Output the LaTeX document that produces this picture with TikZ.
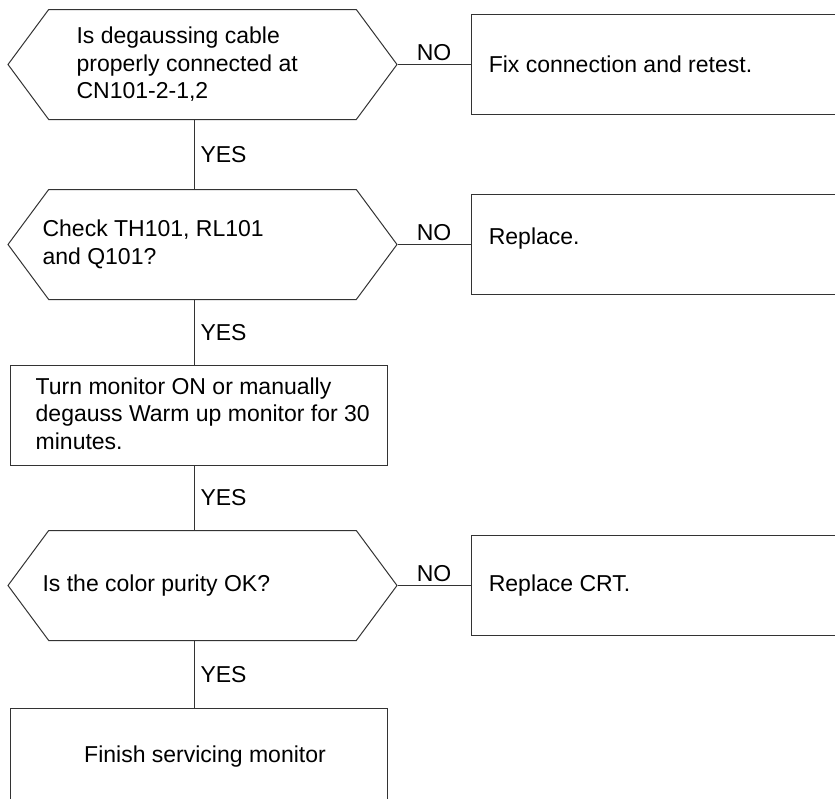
\documentclass[tikz,border=0pt]{standalone}
\usepackage{fontspec}
\setmainfont{Liberation Sans}
\usetikzlibrary{positioning,shapes.symbols}
\definecolor{flowline}{HTML}{333333}

\begin{document}
\begin{tikzpicture}[x=1pt, y=1pt,
  decision/.style={draw=flowline, line width=1, signal, signal to=west and east,
    signal pointer angle=107, minimum width=389, minimum height=110, inner sep=0},
  stepbox/.style={draw=flowline, line width=1, rectangle, inner sep=0},
  txt/.style={inner sep=0, align=left, font=\fontsize{23}{27.5}\selectfont},
  lbl/.style={inner sep=0, font=\fontsize{23}{27.5}\selectfont},
  link/.style={draw=flowline, line width=1}]
  \useasboundingbox (0,0) rectangle (835,-798);
  \coordinate (spine) at (194,0);
  % left column
  \node[decision] (cable) at (202.5,-64.5) {};
  \node[decision, below=69pt of cable] (parts) {};
  \node[stepbox, minimum width=377, minimum height=100, below=65pt of parts, xshift=-4pt] (warmup) {};
  \node[decision, below=64pt of warmup, xshift=4pt] (purity) {};
  \node[stepbox, minimum width=377, minimum height=110, below=67pt of purity, xshift=-4pt] (finish) {};
  % right column
  \node[stepbox, minimum width=380, minimum height=100, right=73pt of cable] (fixconn) {};
  \node[stepbox, minimum width=380, minimum height=100, right=73pt of parts] (replace) {};
  \node[stepbox, minimum width=380, minimum height=100, right=73pt of purity] (replacecrt) {};
  % texts
  \node[txt, right=69pt of cable.west] (cable-txt) {Is degaussing cable\\properly connected at\\CN101-2-1,2};
  \node[txt, right=35pt of parts.west] (parts-txt) {Check TH101, RL101\\and Q101?};
  \node[txt, right=26pt of warmup.west, yshift=2pt] (warmup-txt) {Turn monitor ON or manually\\degauss Warm up monitor for 30\\minutes.};
  \node[txt, right=35pt of purity.west] (purity-txt) {Is the color purity OK?};
  \node[txt, below=37.5pt of finish.north, xshift=6.5pt] (finish-txt) {Finish servicing monitor};
  \node[txt, right=18pt of fixconn.west] (fixconn-txt) {Fix connection and retest.};
  \node[txt, right=18pt of replace.west, yshift=6pt] (replace-txt) {Replace.};
  \node[txt, right=18pt of replacecrt.west] (replacecrt-txt) {Replace CRT.};
  % connectors
  \draw[link] (cable.south -| spine) -- node[lbl, right=6pt] {YES} (parts.north -| spine);
  \draw[link] (parts.south -| spine) -- node[lbl, right=6pt] {YES} (warmup.north -| spine);
  \draw[link] (warmup.south -| spine) -- node[lbl, right=6pt] {YES} (purity.north -| spine);
  \draw[link] (purity.south -| spine) -- node[lbl, right=6pt] {YES} (finish.north -| spine);
  \draw[link] (cable.east) -- node[lbl, above=3pt] {NO} (fixconn.west);
  \draw[link] (parts.east) -- node[lbl, above=3pt] {NO} (replace.west);
  \draw[link] (purity.east) -- node[lbl, above=3pt] {NO} (replacecrt.west);
\end{tikzpicture}
\end{document}
